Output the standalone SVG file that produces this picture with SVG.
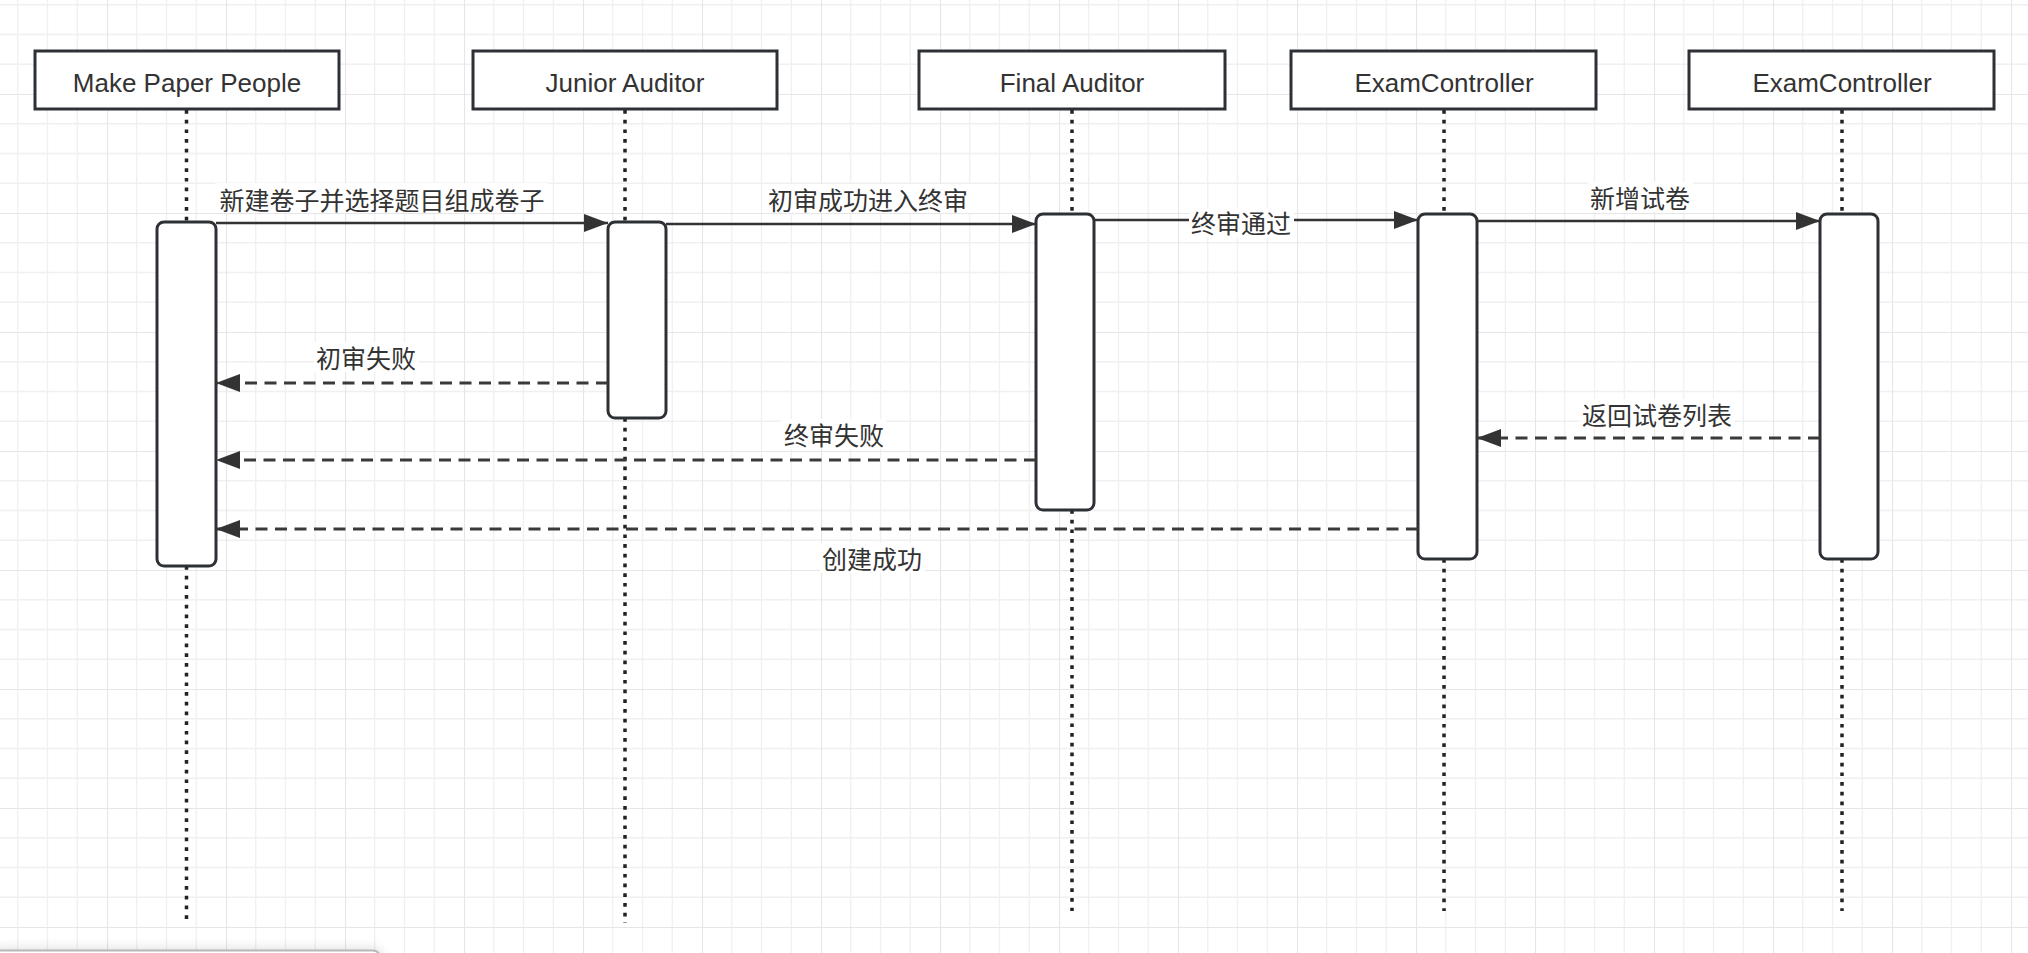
<svg xmlns="http://www.w3.org/2000/svg" width="2028" height="953" viewBox="0 0 2028 953">
  <defs>
    <pattern id="grid" patternUnits="userSpaceOnUse" x="107" y="94" width="119" height="119">
      <path d="M29.75 0V119M59.5 0V119M89.25 0V119M0 29.75H119M0 59.5H119M0 89.25H119" stroke="#f0f0f0" stroke-width="1.3" fill="none"/>
      <path d="M0 0V119M0 0H119" stroke="#e6e6e6" stroke-width="2.2" fill="none"/>
    </pattern>
    <marker id="arr" markerUnits="userSpaceOnUse" markerWidth="26" markerHeight="20" refX="24" refY="9" orient="auto">
      <path d="M0 0L24 9L0 18Z" fill="#333"/>
    </marker>
    <filter id="shadow" x="-10%" y="-200%" width="120%" height="500%">
      <feGaussianBlur stdDeviation="6"/>
    </filter>
    <style>
      .actor rect { fill: #fff; stroke: #2d3136; stroke-width: 3; }
      .actor text { font-family: "Liberation Sans", Arial, sans-serif; font-size: 26px; fill: #333; text-anchor: middle; }
      .life { stroke: #222; stroke-width: 3.5; stroke-dasharray: 3.7 6; fill: none; }
      .act { fill: #fff; stroke: #2d3136; stroke-width: 3; }
      .msg { stroke: #333; stroke-width: 2.5; fill: none; marker-end: url(#arr); }
      .ret { stroke: #3a3a3a; stroke-width: 3; stroke-dasharray: 12 7.5; fill: none; marker-end: url(#arr); }
      .lbl { font-family: "Noto Sans CJK SC", "Noto Sans CJK TC", sans-serif; font-size: 25px; fill: #333; text-anchor: middle; }
      .lblbg { fill: #fff; }
    </style>
  </defs>

  <rect width="2028" height="953" fill="#fff"/>
  <rect width="2028" height="953" fill="url(#grid)"/>

  <!-- lifelines -->
  <g id="lifelines">
    <path class="life" d="M186.5 110V222M186.5 566V923"/>
    <path class="life" d="M625 110V222M625 418V923"/>
    <path class="life" d="M1072 110V214M1072 510V911"/>
    <path class="life" d="M1444 110V214M1444 559V911"/>
    <path class="life" d="M1842 110V214M1842 559V911"/>
  </g>

  <g id="actor-make-paper-people" class="actor">
    <rect x="35" y="51" width="304" height="58"/>
    <text x="187" y="92">Make Paper People</text>
  </g>
  <g id="actor-junior-auditor" class="actor">
    <rect x="473" y="51" width="304" height="58"/>
    <text x="625" y="92">Junior Auditor</text>
  </g>
  <g id="actor-final-auditor" class="actor">
    <rect x="919" y="51" width="306" height="58"/>
    <text x="1072" y="92">Final Auditor</text>
  </g>
  <g id="actor-examcontroller-1" class="actor">
    <rect x="1291" y="51" width="305" height="58"/>
    <text x="1444" y="92">ExamController</text>
  </g>
  <g id="actor-examcontroller-2" class="actor">
    <rect x="1689" y="51" width="305" height="58"/>
    <text x="1842" y="92">ExamController</text>
  </g>

  <!-- activation bars -->
  <g id="activation-1"><rect class="act" x="157" y="222" width="59" height="344" rx="7"/></g>
  <g id="activation-2"><rect class="act" x="608" y="222" width="58" height="196" rx="7"/></g>
  <g id="activation-3"><rect class="act" x="1036" y="214" width="58" height="296" rx="7"/></g>
  <g id="activation-4"><rect class="act" x="1418" y="214" width="59" height="345" rx="7"/></g>
  <g id="activation-5"><rect class="act" x="1820" y="214" width="58" height="345" rx="7"/></g>

  <!-- connectors -->
  <g id="connectors">
    <path class="msg" d="M216 223H608"/>
    <path class="msg" d="M666 224H1036"/>
    <path class="msg" d="M1094 220H1418"/>
    <path class="msg" d="M1477 221H1820"/>
    <path class="ret" d="M608 383H216"/>
    <path class="ret" d="M1036 460H216"/>
    <path class="ret" d="M1418 529H216"/>
    <path class="ret" d="M1820 438H1477"/>
  </g>

  <g id="labels">
    <rect class="lblbg" x="215" y="183" width="334" height="30"/>
    <text class="lbl" x="382" y="210">新建卷子并选择题目组成卷子</text>
    <rect class="lblbg" x="765" y="184" width="206" height="29"/>
    <text class="lbl" x="868" y="210">初审成功进入终审</text>
    <rect class="lblbg" x="1189" y="208" width="105" height="30"/>
    <text class="lbl" x="1241" y="233">终审通过</text>
    <rect class="lblbg" x="1588" y="182" width="105" height="30"/>
    <text class="lbl" x="1640" y="208">新增试卷</text>
    <rect class="lblbg" x="314" y="342" width="105" height="30"/>
    <text class="lbl" x="366" y="368">初审失败</text>
    <rect class="lblbg" x="781" y="419" width="105" height="30"/>
    <text class="lbl" x="834" y="445">终审失败</text>
    <rect class="lblbg" x="820" y="543" width="105" height="30"/>
    <text class="lbl" x="872" y="569">创建成功</text>
    <rect class="lblbg" x="1580" y="399" width="155" height="30"/>
    <text class="lbl" x="1657" y="425">返回试卷列表</text>
  </g>

  <!-- bottom-left floating panel edge -->
  <g id="panel-edge">
    <rect x="-10" y="948" width="392" height="30" rx="8" fill="#000" opacity="0.12" filter="url(#shadow)"/>
    <rect x="-10" y="950.5" width="390" height="30" rx="7" fill="#fff" stroke="#b8b8b8" stroke-width="2"/>
  </g>
</svg>
